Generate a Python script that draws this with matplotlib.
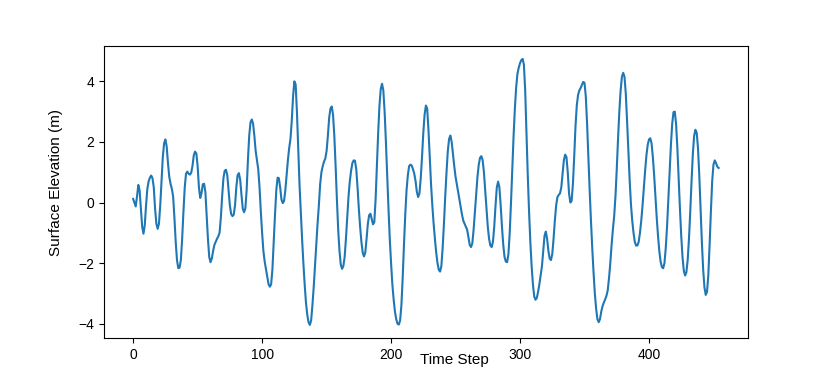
import numpy as np
import matplotlib
matplotlib.use("Agg")
import matplotlib.pyplot as plt

plt.rcParams['font.family'] = ['Liberation Sans', 'DejaVu Sans']

# surface elevation, one value per time step (0..454)
elevation = [
    0.12, 0.0, -0.13, 0.2, 0.58, 0.4, -0.2, -0.8, -1.03, -0.75,
    -0.1, 0.45, 0.7, 0.82, 0.89, 0.8, 0.5, -0.2, -0.7, -0.87,
    -0.7, -0.1, 0.7, 1.5, 1.95, 2.08, 1.85, 1.3, 0.85, 0.62,
    0.45, 0.2, -0.5, -1.3, -1.9, -2.17, -2.15, -1.9, -1.2, -0.3,
    0.5, 0.95, 1.02, 0.95, 0.92, 0.98, 1.2, 1.55, 1.68, 1.62,
    1.2, 0.5, 0.15, 0.3, 0.6, 0.62, 0.35, -0.4, -1.2, -1.8,
    -1.97, -1.85, -1.6, -1.4, -1.3, -1.2, -1.12, -1.0, -0.5, 0.2,
    0.8, 1.05, 1.08, 0.9, 0.4, -0.1, -0.38, -0.45, -0.4, -0.1,
    0.5, 0.9, 0.97, 0.75, 0.25, -0.2, -0.32, -0.2, 0.4, 1.4,
    2.2, 2.65, 2.74, 2.6, 2.2, 1.7, 1.4, 1.1, 0.5, -0.3,
    -1.0, -1.6, -1.95, -2.2, -2.45, -2.7, -2.78, -2.7, -2.2, -1.3,
    -0.4, 0.4, 0.82, 0.8, 0.5, 0.1, -0.02, 0.05, 0.4, 0.9,
    1.4, 1.8, 2.1, 2.7, 3.5, 4.0, 3.9, 3.0, 1.8, 0.6,
    -0.3, -1.2, -2.0, -2.7, -3.3, -3.7, -3.95, -4.04, -3.9, -3.4,
    -2.8, -2.1, -1.4, -0.7, -0.1, 0.6, 1.0, 1.2, 1.35, 1.45,
    1.7, 2.2, 2.8, 3.1, 3.17, 2.9, 2.2, 1.2, 0.1, -0.9,
    -1.6, -2.05, -2.19, -2.1, -1.8, -1.2, -0.5, 0.2, 0.7, 1.05,
    1.3, 1.39, 1.38, 1.1, 0.5, -0.2, -0.8, -1.3, -1.65, -1.78,
    -1.65, -1.2, -0.7, -0.42, -0.37, -0.55, -0.72, -0.65, 0.1, 1.2,
    2.3, 3.2, 3.75, 3.92, 3.7, 3.0, 2.0, 0.9, -0.2, -1.2,
    -2.0, -2.7, -3.2, -3.6, -3.85, -4.0, -4.03, -3.9, -3.4, -2.5,
    -1.4, -0.4, 0.4, 0.9, 1.2, 1.25, 1.22, 1.1, 0.95, 0.7,
    0.35, 0.18, 0.3, 0.8, 1.5, 2.3, 2.9, 3.2, 3.1, 2.4,
    1.5, 0.6, -0.1, -0.7, -1.2, -1.65, -2.0, -2.22, -2.28, -2.1,
    -1.5, -0.7, 0.2, 1.0, 1.7, 2.1, 2.21, 2.0, 1.6, 1.2,
    0.85, 0.6, 0.35, 0.1, -0.15, -0.4, -0.6, -0.7, -0.8, -0.9,
    -1.15, -1.4, -1.47, -1.35, -0.9, -0.3, 0.3, 0.85, 1.25, 1.48,
    1.53, 1.4, 1.0, 0.4, -0.2, -0.8, -1.2, -1.42, -1.47, -1.3,
    -0.8, -0.1, 0.5, 0.69, 0.5, -0.1, -0.8, -1.4, -1.8, -1.95,
    -1.97, -1.7, -1.0, 0.0, 1.1, 2.2, 3.1, 3.8, 4.25, 4.45,
    4.6, 4.7, 4.74, 4.55, 3.7, 2.3, 0.9, -0.3, -1.3, -2.1,
    -2.7, -3.1, -3.21, -3.15, -2.95, -2.7, -2.4, -2.1, -1.6, -1.1,
    -0.96, -1.2, -1.6, -1.85, -1.9, -1.7, -1.2, -0.6, -0.1, 0.18,
    0.25, 0.3, 0.5, 0.95, 1.4, 1.58, 1.5, 1.0, 0.3, 0.0,
    0.05, 0.6, 1.5, 2.5, 3.2, 3.55, 3.7, 3.78, 3.88, 3.98,
    3.95, 3.5, 2.6, 1.5, 0.4, -0.6, -1.5, -2.3, -3.0, -3.5,
    -3.85, -3.95, -3.85, -3.6, -3.42, -3.3, -3.2, -3.08, -2.9, -2.5,
    -2.0, -1.4, -0.9, -0.45, 0.2, 1.1, 2.1, 3.0, 3.7, 4.15,
    4.28, 4.15, 3.6, 2.7, 1.7, 0.75, -0.05, -0.6, -1.0, -1.3,
    -1.42, -1.42, -1.3, -1.0, -0.6, -0.1, 0.5, 1.05, 1.55, 1.9,
    2.08, 2.12, 1.95, 1.5, 0.9, 0.2, -0.5, -1.1, -1.6, -1.95,
    -2.13, -2.17, -2.0, -1.5, -0.8, 0.1, 1.0, 1.9, 2.6, 2.98,
    3.0, 2.6, 1.8, 0.8, -0.2, -1.1, -1.8, -2.25, -2.41, -2.3,
    -1.9, -1.2, -0.3, 0.7, 1.6, 2.2, 2.4, 2.3, 1.8, 0.9,
    -0.2, -1.3, -2.2, -2.8, -3.05, -2.95, -2.4, -1.4, -0.3, 0.7,
    1.25, 1.39, 1.3, 1.18, 1.14,
]
time_step = np.arange(len(elevation))

fig, ax = plt.subplots(figsize=(8.31, 3.8), dpi=100)
ax.plot(time_step, elevation, color='#1f77b4', linewidth=1.5)
ax.set_xlabel("Time Step", fontsize=11)
ax.set_ylabel("Surface Elevation (m)", fontsize=11)
# labels sit a little off-centre in the reference
ax.xaxis.set_label_coords(0.544, -0.05)
ax.yaxis.set_label_coords(-0.064, 0.532)
ax.tick_params(axis='both', labelsize=10)

fig.savefig("out.png", dpi=100)
plt.close(fig)
